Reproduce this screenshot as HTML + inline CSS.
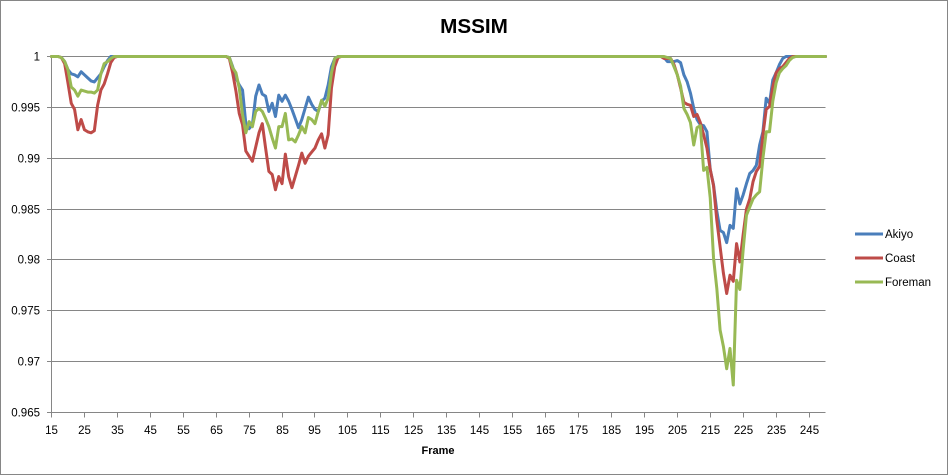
<!DOCTYPE html>
<html lang="en">
<head>
<meta charset="utf-8">
<title>MSSIM</title>
<style>
html,body{margin:0;padding:0;background:#fff}
#chart{display:block;width:948px;height:475px}
text{font-family:"Liberation Sans",sans-serif;fill:#000}
</style>
</head>
<body>
<svg id="chart" xmlns="http://www.w3.org/2000/svg" width="948" height="475" viewBox="0 0 948 475">
  <rect x="0.5" y="0.5" width="947" height="474" fill="#fff" stroke="#868686" stroke-width="1"/>
  <text x="474" y="33" text-anchor="middle" font-size="20.7" font-weight="bold">MSSIM</text>
  <g id="grid"></g>
  <g id="axes"></g>
  <g id="series"></g>
  <text x="438" y="454" text-anchor="middle" font-size="11" font-weight="bold">Frame</text>
  <g>
    <g>
      <line x1="855" y1="234" x2="883" y2="234" stroke="#4A7EBB" stroke-width="3"/>
      <text x="885" y="238" font-size="11.5">Akiyo</text>
    </g>
    <g>
      <line x1="855" y1="258" x2="883" y2="258" stroke="#BE4B48" stroke-width="3"/>
      <text x="885" y="262" font-size="11.5">Coast</text>
    </g>
    <g>
      <line x1="855" y1="282" x2="883" y2="282" stroke="#98B954" stroke-width="3"/>
      <text x="885" y="286" font-size="11.5">Foreman</text>
    </g>
  </g>
</svg>
<script>
var firstFrame = 15;
var lastFrame = 250;
var xTicks = [15,25,35,45,55,65,75,85,95,105,115,125,135,145,155,165,175,185,195,205,215,225,235,245];
var yTicks = [1,0.995,0.99,0.985,0.98,0.975,0.97,0.965];

var akiyo = [
1,1,1,.9999,.9995,.9987,.9983,.9982,.998,.9985,
.9982,.9979,.9976,.9975,.9979,.9983,.999,.9996,1,1,
1,1,1,1,1,1,1,1,1,1,
1,1,1,1,1,1,1,1,1,1,
1,1,1,1,1,1,1,1,1,1,
1,1,1,1,.9999,.999,.9979,.9972,.9967,.9934,
.9929,.9933,.9961,.9972,.9963,.9961,.9946,.9954,.9941,.9962,
.9956,.9962,.9956,.9948,.9939,.993,.9938,.9949,.996,.9953,
.9948,.9946,.9956,.9959,.9972,.999,.9998,1,1,1,
1,1,1,1,1,1,1,1,1,1,
1,1,1,1,1,1,1,1,1,1,
1,1,1,1,1,1,1,1,1,1,
1,1,1,1,1,1,1,1,1,1,
1,1,1,1,1,1,1,1,1,1,
1,1,1,1,1,1,1,1,1,1,
1,1,1,1,1,1,1,1,1,1,
1,1,1,1,1,1,1,1,1,1,
1,1,1,1,1,1,1,1,1,1,
1,1,1,1,1,1,.9999,.9995,.9995,.9995,
.9996,.9994,.9982,.9975,.9964,.9949,.9938,.9933,.9932,.9926,
.9889,.9874,.9848,.9829,.9827,.9817,.9834,.9831,.987,.9855,
.9864,.9875,.9885,.9888,.9893,.9913,.9926,.9959,.9954,.9977,
.9984,.9992,.9998,1,1,1,1,1,1,1,
1,1,1,1,1,1
];

var coast = [
1,1,1,.9999,.9993,.9974,.9954,.9948,.9928,.9938,
.9928,.9926,.9925,.9927,.9952,.9967,.9973,.9983,.9994,.9999,
1,1,1,1,1,1,1,1,1,1,
1,1,1,1,1,1,1,1,1,1,
1,1,1,1,1,1,1,1,1,1,
1,1,1,1,.9998,.9984,.9966,.9944,.9933,.9907,
.9902,.9897,.9911,.9925,.9934,.991,.9887,.9884,.9869,.9882,
.9875,.9904,.9882,.9871,.9882,.9893,.9905,.9895,.9902,.9906,
.991,.9918,.9924,.991,.9923,.9969,.999,.9999,1,1,
1,1,1,1,1,1,1,1,1,1,
1,1,1,1,1,1,1,1,1,1,
1,1,1,1,1,1,1,1,1,1,
1,1,1,1,1,1,1,1,1,1,
1,1,1,1,1,1,1,1,1,1,
1,1,1,1,1,1,1,1,1,1,
1,1,1,1,1,1,1,1,1,1,
1,1,1,1,1,1,1,1,1,1,
1,1,1,1,1,1,1,1,1,1,
1,1,1,1,1,1,.9998,.9998,.9998,.9992,
.9982,.9969,.9955,.9953,.9952,.9941,.9943,.9935,.9923,.991,
.9889,.9873,.9839,.9813,.9787,.9767,.9785,.9779,.9816,.9798,
.9825,.985,.986,.9877,.9887,.9892,.9923,.9948,.9951,.997,
.9984,.9988,.999,.9994,.9998,1,1,1,1,1,
1,1,1,1,1,1
];

var foreman = [
1,1,1,.9999,.9995,.9987,.997,.9967,.9961,.9967,
.9966,.9965,.9965,.9964,.9967,.9983,.9993,.9995,.9998,1,
1,1,1,1,1,1,1,1,1,1,
1,1,1,1,1,1,1,1,1,1,
1,1,1,1,1,1,1,1,1,1,
1,1,1,1,.9999,.9989,.9984,.9969,.9943,.9925,
.9936,.9931,.9946,.9949,.9946,.9939,.9931,.992,.991,.9931,
.9931,.9944,.9918,.9919,.9916,.9923,.9931,.9925,.994,.9938,
.9934,.9946,.9957,.9951,.9959,.9984,.9998,1,1,1,
1,1,1,1,1,1,1,1,1,1,
1,1,1,1,1,1,1,1,1,1,
1,1,1,1,1,1,1,1,1,1,
1,1,1,1,1,1,1,1,1,1,
1,1,1,1,1,1,1,1,1,1,
1,1,1,1,1,1,1,1,1,1,
1,1,1,1,1,1,1,1,1,1,
1,1,1,1,1,1,1,1,1,1,
1,1,1,1,1,1,1,1,1,1,
1,1,1,1,1,1,1,.9999,.9998,.999,
.9982,.9971,.9949,.9943,.9935,.9913,.993,.9932,.9888,.9891,
.9861,.9802,.9772,.9731,.9715,.9693,.9713,.9677,.978,.9771,
.981,.9844,.9852,.986,.9864,.9867,.99,.9926,.9926,.9956,
.9974,.9984,.9988,.9991,.9996,.9999,1,1,1,1,
1,1,1,1,1,1
];

var NS = 'http://www.w3.org/2000/svg';
var plotLeft = 51.5, plotRight = 825.5, plotTop = 56.5, plotBottom = 412.5;
var yMax = 1, yMin = 0.965;
var axisColor = '#868686';

function xScale(frame) {
  return plotLeft + (frame - firstFrame) * (plotRight - plotLeft) / (lastFrame - firstFrame);
}
function yScale(value) {
  return plotTop + (yMax - value) * (plotBottom - plotTop) / (yMax - yMin);
}
function makeLine(x1, y1, x2, y2) {
  var l = document.createElementNS(NS, 'line');
  l.setAttribute('x1', x1);
  l.setAttribute('y1', y1);
  l.setAttribute('x2', x2);
  l.setAttribute('y2', y2);
  l.setAttribute('stroke', axisColor);
  l.setAttribute('stroke-width', '1');
  return l;
}
function snap(v) {
  return Math.floor(v) + 0.5;
}

var gridGroup = document.getElementById('grid');
var axesGroup = document.getElementById('axes');
var seriesGroup = document.getElementById('series');

yTicks.forEach(function (t) {
  var y = snap(yScale(t));
  var g = makeLine(47, y, plotRight, y);
  
  
  gridGroup.appendChild(g);
  var label = document.createElementNS(NS, 'text');
  
  
  label.setAttribute('x', 40);
  label.setAttribute('y', y + 4);
  label.setAttribute('text-anchor', 'end');
  label.setAttribute('font-size', '11.5');
  label.textContent = String(t);
  axesGroup.appendChild(label);
});

var yAxis = makeLine(plotLeft, plotTop, plotLeft, plotBottom);


axesGroup.appendChild(yAxis);

xTicks.forEach(function (t) {
  var x = snap(xScale(t));
  var tick = makeLine(x, plotBottom, x, plotBottom + 5);
  
  
  axesGroup.appendChild(tick);
  var label = document.createElementNS(NS, 'text');
  
  
  label.setAttribute('x', x);
  label.setAttribute('y', 434);
  label.setAttribute('text-anchor', 'middle');
  label.setAttribute('font-size', '11.5');
  label.textContent = String(t);
  axesGroup.appendChild(label);
});

function drawSeries(values, color, name) {
  var pts = values.map(function (v, i) {
    return xScale(firstFrame + i).toFixed(2) + ',' + yScale(v).toFixed(2);
  }).join(' ');
  var p = document.createElementNS(NS, 'polyline');
  
  
  p.setAttribute('points', pts);
  p.setAttribute('fill', 'none');
  p.setAttribute('stroke', color);
  p.setAttribute('stroke-width', '3');
  p.setAttribute('stroke-linejoin', 'round');
  p.setAttribute('stroke-linecap', 'round');
  seriesGroup.appendChild(p);
}
drawSeries(akiyo, '#4A7EBB', 'series-akiyo');
drawSeries(coast, '#BE4B48', 'series-coast');
drawSeries(foreman, '#98B954', 'series-foreman');
</script>
</body>
</html>
